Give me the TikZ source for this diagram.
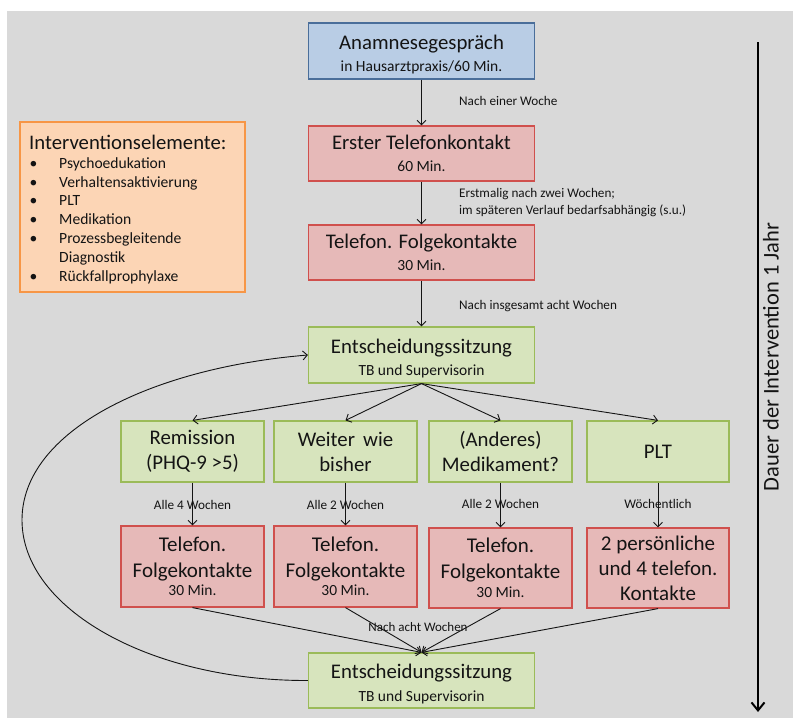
\documentclass[tikz,border=0pt]{standalone}
\usepackage{fontspec}
\setmainfont{Carlito}
\usetikzlibrary{arrows.meta}

\definecolor{canvas}{HTML}{D9D9D9}
\definecolor{blueFill}{HTML}{B9CDE5}
\definecolor{blueLine}{HTML}{4A6E9A}
\definecolor{redFill}{HTML}{E6B9B8}
\definecolor{redLine}{HTML}{D0504D}
\definecolor{greenFill}{HTML}{D7E4BD}
\definecolor{greenLine}{HTML}{9BBB59}
\definecolor{orangeFill}{HTML}{FCD5B5}
\definecolor{orangeLine}{HTML}{F79646}
\definecolor{ink}{HTML}{141414}

\tikzset{
  box/.style={draw, line width=1.2pt, inner sep=0pt, align=center, text=ink},
  bluebox/.style={box, fill=blueFill, draw=blueLine},
  redbox/.style={box, fill=redFill, draw=redLine},
  greenbox/.style={box, fill=greenFill, draw=greenLine},
  orangebox/.style={box, fill=orangeFill, draw=orangeLine},
  mainbox/.style={minimum width=226pt, minimum height=55pt, font=\fontsize{15.5}{22.5}\selectfont},
  smallbox/.style={minimum width=143pt, minimum height=61pt, font=\fontsize{20.8}{25}\selectfont},
  contactbox/.style={minimum width=143pt, minimum height=81pt},
  edgelabel/.style={text=ink, inner sep=0pt, font=\fontsize{13.2}{17}\selectfont},
  steplabel/.style={text=ink, inner sep=0pt, font=\fontsize{13.2}{15}\selectfont},
  listitem/.style={text=ink, inner sep=0pt, anchor=base west, font=\fontsize{15.6}{18}\selectfont},
  flow/.style={draw=ink, line width=0.9pt, -{Straight Barb[length=4.5pt,width=9pt]}},
  timeline/.style={draw=black, line width=2pt, -{Straight Barb[length=8pt,width=13pt]}},
}
\newcommand{\titletext}[1]{{\fontsize{20.8}{24}\selectfont #1}}
\newcommand{\lowerstrut}{\rule{0pt}{21pt}}

\begin{document}
\begin{tikzpicture}[x=1pt, y=-1pt]
\useasboundingbox (0,0) rectangle (793,718);
\fill[canvas] (7,11) rectangle (793,718);

% main column
\node[bluebox, mainbox, minimum height=56pt] (anam) at (421.5,51)
  {\lowerstrut\titletext{Anamnesegespräch}\\in Hausarztpraxis/60 Min.};
\node[redbox, mainbox] (erst) at (421.5,153.5)
  {\titletext{Erster Telefonkontakt}\\60 Min.};
\node[redbox, mainbox] (folge) at (421.5,252.5)
  {\titletext{Telefon. Folgekontakte}\\30 Min.};
\node[greenbox, mainbox, minimum height=56pt] (ents) at (421.5,355)
  {\lowerstrut\titletext{Entscheidungssitzung}\\TB und Supervisorin};

% decision branches
\node[greenbox, smallbox] (rem) at (192.5,451.5) {Remission\\(PHQ-9 >5)};
\node[greenbox, smallbox] (weit) at (345.5,451.5) {Weiter\, wie\\bisher};
\node[greenbox, smallbox] (med) at (500.5,451.5) {(Anderes)\\Medikament?};
\node[greenbox, smallbox, minimum width=142pt] (plt) at (658,451.5) {PLT};

% contact frequency boxes
\node[redbox, contactbox, font=\fontsize{15.5}{18.5}\selectfont] (k1) at (192.5,566.5)
  {{\fontsize{21}{25}\selectfont Telefon.}\\[7.5pt]{\fontsize{21}{25}\selectfont Folgekontakte}\\30 Min.};
\node[redbox, contactbox, font=\fontsize{15.5}{18.5}\selectfont] (k2) at (345.5,566.5)
  {{\fontsize{21}{25}\selectfont Telefon.}\\[7.5pt]{\fontsize{21}{25}\selectfont Folgekontakte}\\30 Min.};
\node[redbox, contactbox, minimum height=80pt, font=\fontsize{15.5}{18.5}\selectfont] (k3) at (500.5,568)
  {{\fontsize{21}{25}\selectfont Telefon.}\\[7.5pt]{\fontsize{21}{25}\selectfont Folgekontakte}\\30 Min.};
\node[redbox, contactbox, minimum width=142pt, minimum height=80pt, font=\fontsize{21}{25}\selectfont] (k4) at (658,568)
  {2 persönliche\\und 4 telefon.\\Kontakte};

\node[greenbox, mainbox] (ents2) at (421.5,680.5)
  {\lowerstrut\titletext{Entscheidungssitzung}\\TB und Supervisorin};

% elements of the intervention
\node[orangebox, minimum width=225pt, minimum height=170pt] (elem) at (132.5,207) {};
\node[text=ink, inner sep=0pt, anchor=west, font=\fontsize{20.7}{24}\selectfont] (elemtitle) at (29,142) {Interventionselemente:};
\foreach \y/\txt/\b [count=\i] in {
    163/Psychoedukation/1, 182/Verhaltensaktivierung/1, 200.5/PLT/1, 219/Medikation/1,
    238/Prozessbegleitende/1, 257/Diagnostik/0, 276.5/Rückfallprophylaxe/1} {
  \node[listitem] (item\i) at (59,\y+5) {\txt};
  \ifnum\b=1 \node[listitem] (bullet\i) at (29.5,\y+5) {\textbullet}; \fi
}

% connectors of the main column
\draw[flow] (anam) -- (erst);
\draw[flow] (erst) -- (folge);
\draw[flow] (folge) -- (ents);
\node[edgelabel, anchor=west] (l1) at (459,101) {Nach einer Woche};
\node[edgelabel, anchor=west, align=left] (l2) at (459,202.5)
  {Erstmalig nach zwei Wochen;\\im späteren Verlauf bedarfsabhängig (s.u.)};
\node[edgelabel, anchor=west] (l3) at (459,306) {Nach insgesamt acht Wochen};

% branching
\foreach \n in {rem, weit, med, plt} \draw[flow] (ents.south) -- (\n.north);

% frequency labels and arrows
\node[steplabel] (f1) at (192.5,505) {Alle 4 Wochen};
\node[steplabel] (f2) at (345.5,505) {Alle 2 Wochen};
\node[steplabel] (f3) at (500.5,504) {Alle 2 Wochen};
\node[steplabel] (f4) at (658,504) {Wöchentlich};
\draw[flow] (rem) -- (k1);
\draw[flow] (weit) -- (k2);
\draw[flow] (med) -- (k3);
\draw[flow] (plt) -- (k4);

% merge into the next decision
\node[edgelabel, font=\fontsize{13}{16}\selectfont] (l4) at (418,627) {Nach acht Wochen};
\foreach \n in {k1, k2, k3, k4} \draw[flow] (\n.south) -- (ents2.north);

% loop back
\coordinate (loopleft) at (22,520);
\draw[flow] (ents2.west) .. controls (151,681) and (22,609) .. (loopleft)
  .. controls (22,431) and (151,368) .. (ents.west);

% duration axis
\coordinate (tltop) at (758,42);
\coordinate (tlbot) at (758,712);
\draw[timeline] (tltop) -- (tlbot);
\node[rotate=90, text=ink, inner sep=0pt, font=\fontsize{22.5}{27}\selectfont] (dauer) at (771,357)
  {Dauer der Intervention 1 Jahr};
\end{tikzpicture}
\end{document}
